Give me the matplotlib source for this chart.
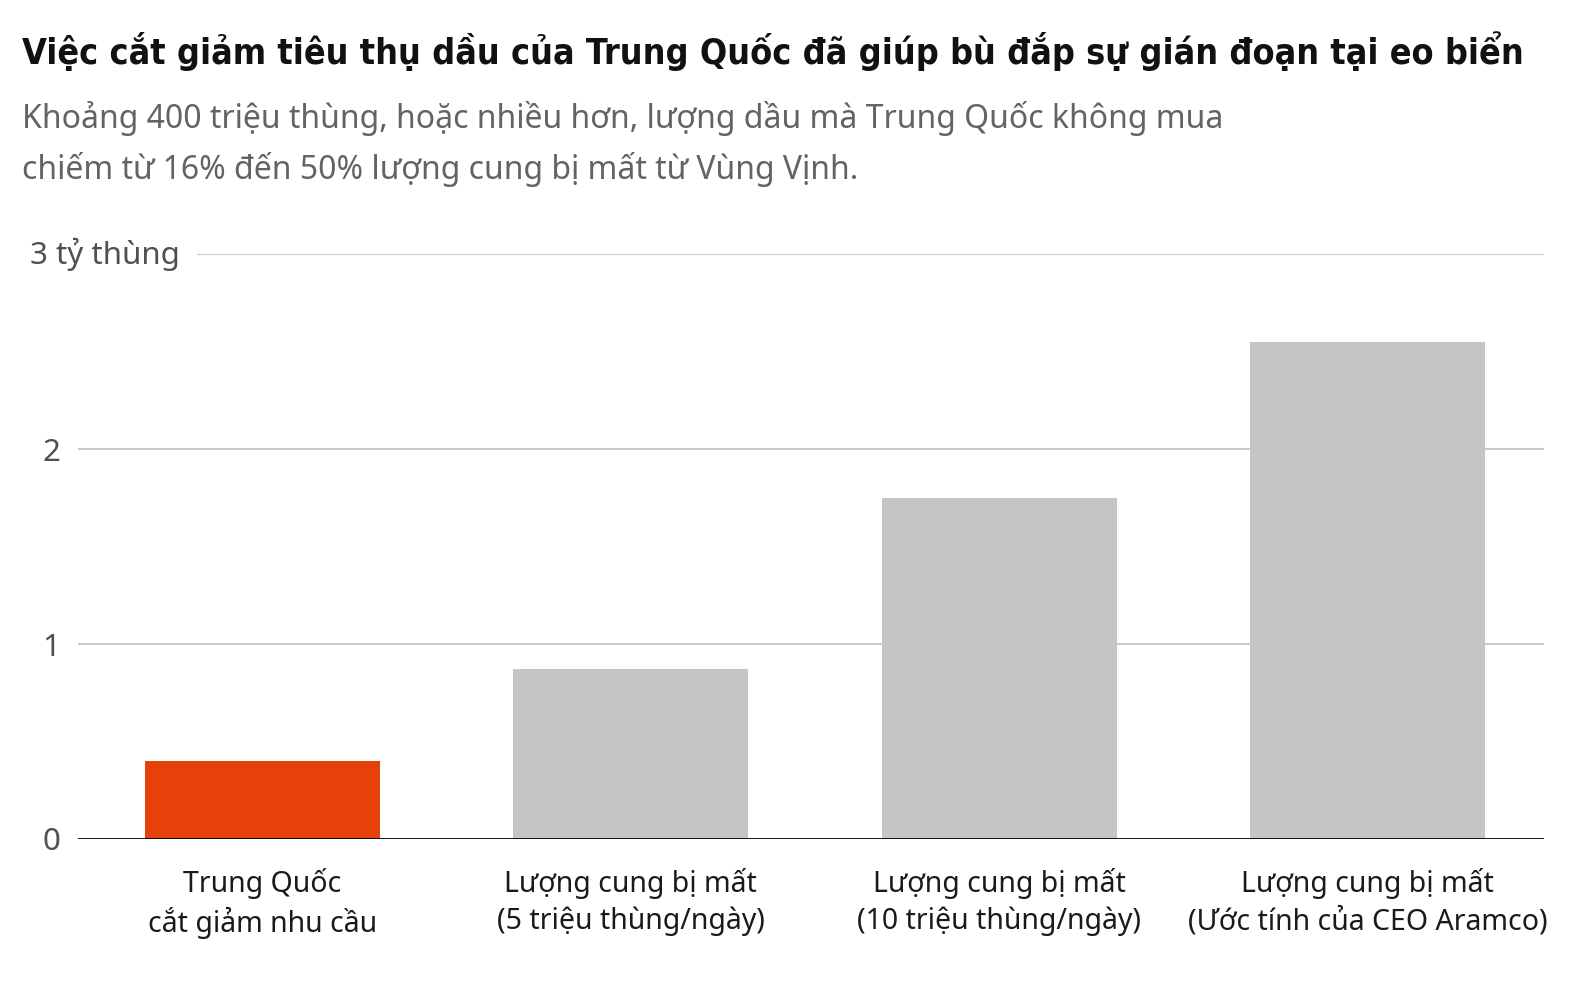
import matplotlib
matplotlib.use("Agg")
import matplotlib.pyplot as plt
from matplotlib.transforms import blended_transform_factory

categories = [
    "Trung Quốc\ncắt giảm nhu cầu",
    "Lượng cung bị mất\n(5 triệu thùng/ngày)",
    "Lượng cung bị mất\n(10 triệu thùng/ngày)",
    "Lượng cung bị mất\n(Ước tính của CEO Aramco)",
]
values = [0.40, 0.87, 1.75, 2.55]
bar_colors = ["#E6400B", "#C5C5C7", "#C5C5C7", "#C5C5C7"]
y_ticks = [0, 1, 2, 3]
y_tick_labels = ["0", "1", "2", "3 tỷ thùng"]

title = "Việc cắt giảm tiêu thụ dầu của Trung Quốc đã giúp bù đắp sự gián đoạn tại eo biển"
subtitle = ("Khoảng 400 triệu thùng, hoặc nhiều hơn, lượng dầu mà Trung Quốc không mua\n"
            "chiếm từ 16% đến 50% lượng cung bị mất từ Vùng Vịnh.")

plt.rcParams['font.family'] = ['Noto Sans', 'DejaVu Sans']

W, H = 1571, 1001
fig = plt.figure(figsize=(W / 100, H / 100), dpi=100)
fig.patch.set_facecolor("white")

ax_left, ax_right, ax_bottom, ax_top = 78, 1544, 839, 254
ax = fig.add_axes([ax_left / W, 1 - ax_bottom / H, (ax_right - ax_left) / W, (ax_bottom - ax_top) / H])

x = list(range(len(categories)))
ax.bar(x, values, width=0.638, color=bar_colors, zorder=3)
ax.set_xlim(-0.5, 3.479)
ax.set_ylim(0, 3)

for s in ax.spines.values():
    s.set_visible(False)

# gridlines
for yv in y_ticks[1:]:
    xmin = (198 - ax_left) / (ax_right - ax_left) if yv == 3 else 0
    ax.axhline(yv, xmin=xmin, xmax=1, color="#C9C9C9", lw=1.5, zorder=1)
ax.axhline(0, color="#000000", lw=2.0, zorder=4)

ax.set_yticks(y_ticks[:3])
ax.set_yticklabels(y_tick_labels[:3], fontsize=22.5, color="#505050")
ax.tick_params(axis='y', length=0, pad=13)
trans = blended_transform_factory(fig.transFigure, ax.transData)
ax.text(30 / W, y_ticks[3], y_tick_labels[3], transform=trans, fontsize=22.5,
        color="#505050", ha="left", va="center")

ax.set_xticks(x)
ax.set_xticklabels(categories, fontsize=20.5, color="#1a1a1a", linespacing=1.32)
ax.tick_params(axis='x', length=0, pad=21)

t = fig.text(22 / W, 1 - 51 / H, title, fontsize=30, fontweight="bold",
             family=['DejaVu Sans', 'Noto Sans'], fontstretch='condensed',
             color="#111111", ha="left", va="center")
fig.text(22 / W, 1 - 144 / H, subtitle, fontsize=23, color="#636363",
         ha="left", va="center", linespacing=1.62)

# fit title width to the reference's span
fig.canvas.draw()
r = fig.canvas.get_renderer()
w = t.get_window_extent(r).width
t.set_fontsize(30 * 1495 / w)

fig.savefig("out.png", dpi=100, facecolor="white")
